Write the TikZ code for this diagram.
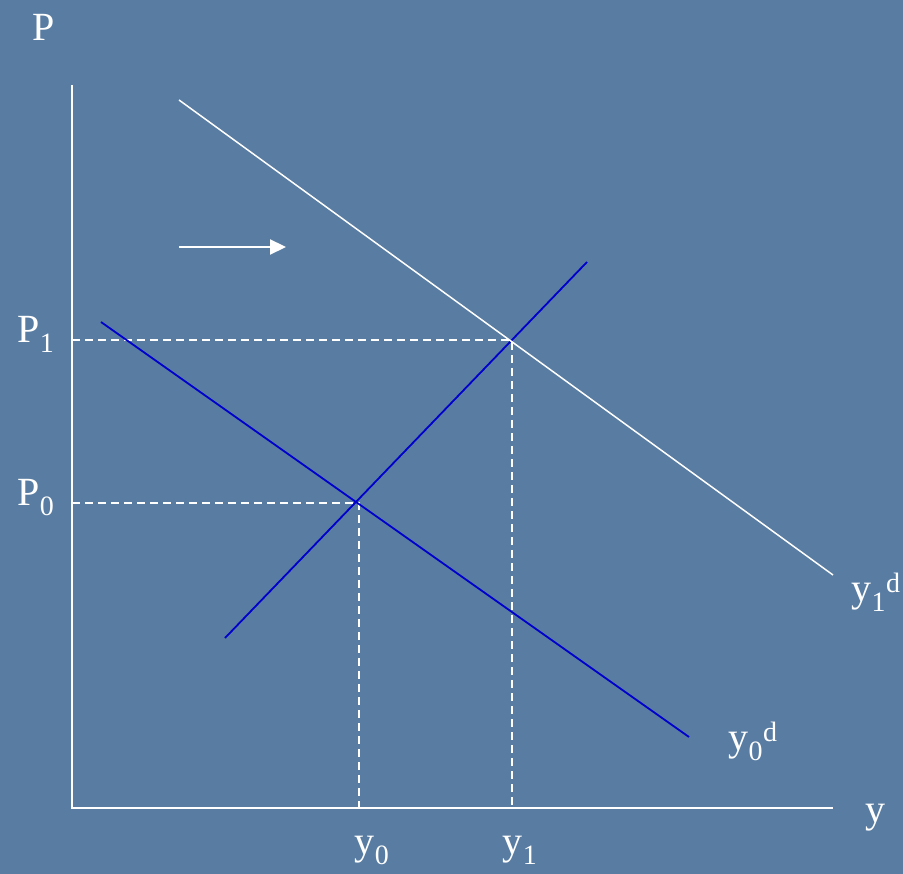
\documentclass[tikz,border=0pt]{standalone}
\usepackage{fontspec}
\setmainfont{Liberation Serif}
\usepackage{xcolor}
\usetikzlibrary{arrows.meta}
\definecolor{slateblue}{RGB}{88,124,162}
\definecolor{curveblue}{RGB}{0,0,205}

\tikzset{
  axisline/.style={white, line width=1.8pt},
  dashline/.style={white, line width=1.5pt, dash pattern=on 8pt off 5pt},
  demandwhite/.style={white, line width=1.5pt},
  bluecurve/.style={curveblue, line width=1.8pt},
  lbl/.style={text=white, font=\fontsize{40}{44}\selectfont, inner sep=0pt}
}

\begin{document}
\begin{tikzpicture}[x=1pt, y=-1pt]

% Background
\fill[slateblue] (0,0) rectangle (903,874);
\useasboundingbox (0,0) rectangle (903,874);

% Axes
\coordinate (origin) at (72,808);
\coordinate (ytop) at (72,85);
\coordinate (xend) at (833,808);
\draw[axisline] (ytop) -- (origin) -- (xend);

% Axis labels
\node[lbl] (plabel) at (44,27) {P};
\node[lbl] (ylabel) at (875,818) {y};

% Equilibrium points
\coordinate (eq0) at (359,503);
\coordinate (eq1) at (512,340);

% Dashed guide lines
\coordinate (p0axis) at (72,503);
\coordinate (p1axis) at (72,340);
\coordinate (y0axis) at (359,808);
\coordinate (y1axis) at (512,808);
\draw[dashline] (p0axis) -- (eq0) -- (y0axis);
\draw[dashline] (p1axis) -- (eq1) -- (y1axis);

% Price and output labels
\node[lbl] (p0label) at (36,498) {P\textsubscript{0}};
\node[lbl] (p1label) at (36,334) {P\textsubscript{1}};
\node[lbl] (y0label) at (372,850) {y\textsubscript{0}};
\node[lbl] (y1label) at (520,850) {y\textsubscript{1}};

% Supply curve
\coordinate (sstart) at (225,638);
\coordinate (send) at (587,262);
\draw[bluecurve] (sstart) -- (send);

% Demand curves
\coordinate (d0start) at (101,322);
\coordinate (d0end) at (689,737);
\draw[bluecurve] (d0start) -- (d0end);
\coordinate (d1start) at (179,100);
\coordinate (d1end) at (833,575);
\draw[demandwhite] (d1start) -- (d1end);

\node[lbl] (d0label) at (753,741) {y\textsubscript{0}\textsuperscript{d}};
\node[lbl] (d1label) at (876,592) {y\textsubscript{1}\textsuperscript{d}};

% Shift arrow
\coordinate (shiftfrom) at (179,247);
\coordinate (shiftto) at (286,247);
\draw[white, line width=2.2pt, -{Triangle[length=16pt, width=15pt]}] (shiftfrom) -- (shiftto);

\end{tikzpicture}
\end{document}
